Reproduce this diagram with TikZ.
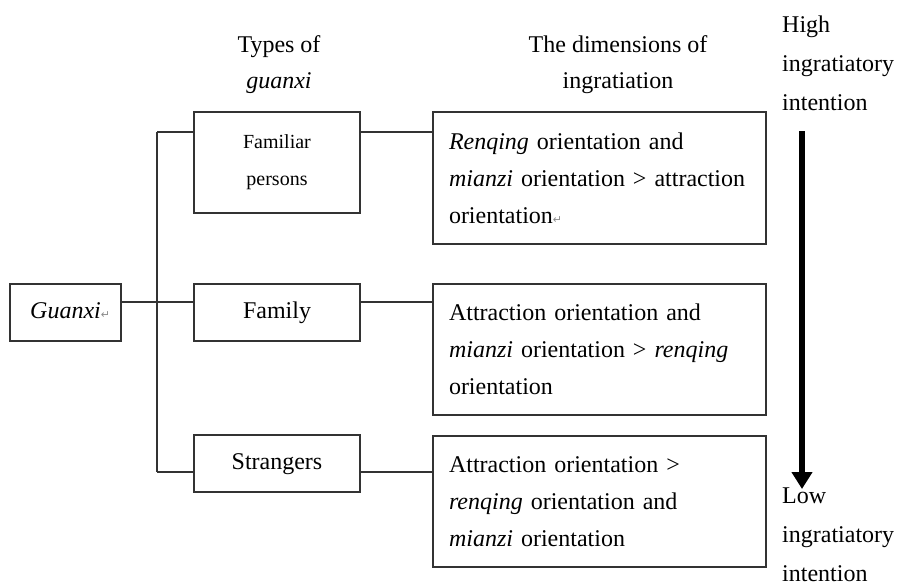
\documentclass[tikz,border=0pt]{standalone}
\usepackage{fontspec}
\setmainfont{Liberation Serif}
\newfontfamily\symfont{DejaVu Sans}
\usetikzlibrary{arrows.meta}
\newcommand{\retmark}{{\symfont\fontsize{11}{11}\selectfont\textcolor{black!45}{↵}}}
\begin{document}
\begin{tikzpicture}[x=1pt,y=-1pt,
  frame/.style={draw=black!80,line width=1.2pt,rectangle,inner sep=0pt},
  onerow/.style={frame,font=\fontsize{24}{37}\selectfont,text height=16pt,text depth=5pt},
  dimbox/.style={frame,minimum width=333pt,minimum height=132pt,text width=301pt,
    align=left,font=\fontsize{24}{37}\selectfont},
  header/.style={align=center,inner sep=0pt,font=\fontsize{24}{36}\selectfont},
  scalelabel/.style={align=left,inner sep=0pt,anchor=north west,font=\fontsize{24}{39}\selectfont},
  wire/.style={draw=black!80,line width=1.2pt}]
\useasboundingbox (0,0) rectangle (900,584);

% column headers
\node[header] (hTypes) at (279,64.5) {Types of\\\textit{guanxi}};
\node[header] (hDims) at (618,64.8) {The dimensions of\\ingratiation};

% root
\node[onerow,minimum width=111pt,minimum height=57pt] (root) at (65.5,312.5)
  {\textit{Guanxi}\rlap{\retmark}};

% types of guanxi
\node[frame,minimum width=166pt,minimum height=101pt,align=center,
  font=\fontsize{20}{37}\selectfont] (fp) at (277,162.5) {Familiar\\persons};
\node[onerow,minimum width=166pt,minimum height=57pt] (fam) at (277,312.5) {Family};
\node[onerow,minimum width=166pt,minimum height=57pt] (str) at (277,463.5) {Strangers};

% dimensions of ingratiation
\node[dimbox] (d1) at (599.5,178) {\textit{Renqing} orientation and\\
  \textit{mianzi} orientation > attraction\\orientation\retmark};
\node[dimbox,minimum height=131pt] (d2) at (599.5,349.5) {Attraction orientation and\\
  \textit{mianzi} orientation > \textit{renqing}\\orientation};
\node[dimbox,minimum height=131pt] (d3) at (599.5,501.5) {Attraction orientation >\\
  \textit{renqing} orientation and\\\textit{mianzi} orientation};

% tree connectors
\coordinate (b1) at (157,132);
\coordinate (b2) at (157,302);
\coordinate (b3) at (157,472);
\draw[wire] (b1) -- (b3);
\draw[wire] (root.east |- b2) -- (b2);
\draw[wire] (b1) -- (fp.west |- b1);
\draw[wire] (b2) -- (fam.west |- b2);
\draw[wire] (b3) -- (str.west |- b3);
\draw[wire] (fp.east |- b1) -- (d1.west |- b1);
\draw[wire] (fam.east |- b2) -- (d2.west |- b2);
\draw[wire] (str.east |- b3) -- (d3.west |- b3);

% intention scale
\node[scalelabel] (high) at (782,15.6) {High\\ingratiatory\\intention};
\node[scalelabel] (low) at (782,487.6) {Low\\ingratiatory\\intention};
\coordinate (ahigh) at (802,131);
\coordinate (alow) at (802,489);
\draw[line width=6pt,-{Triangle[width=20pt,length=17pt]}] (ahigh) -- (alow);
\end{tikzpicture}
\end{document}
